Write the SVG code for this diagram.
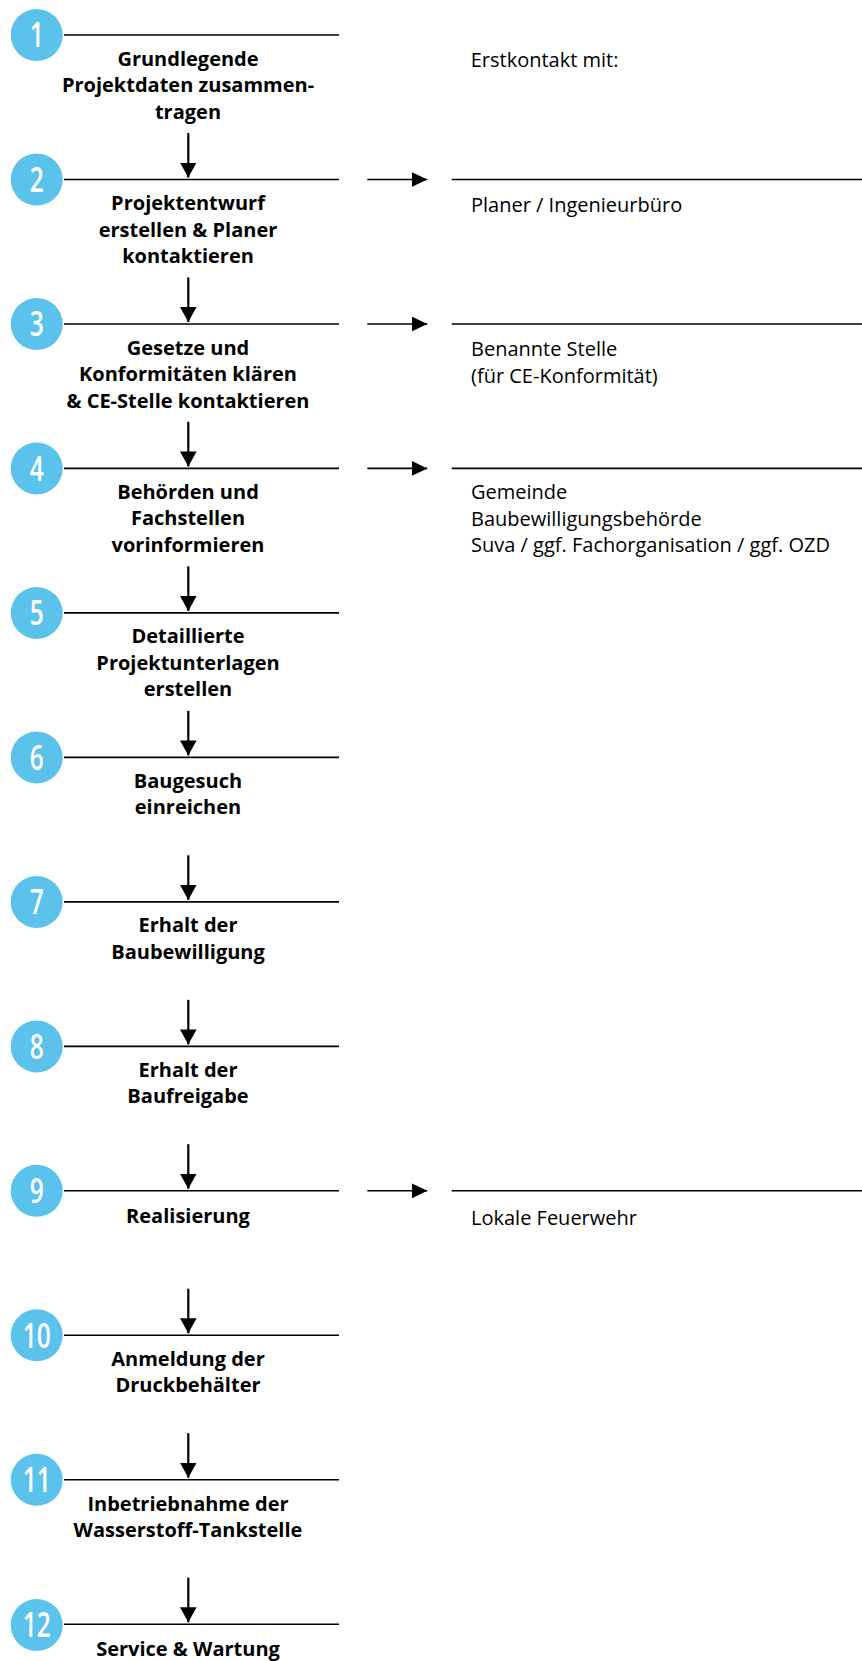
<svg xmlns="http://www.w3.org/2000/svg" width="862" height="1661" viewBox="0 0 862 1661">
<defs>
<marker id="ah" markerUnits="userSpaceOnUse" markerWidth="16" markerHeight="17" refX="15" refY="8.3" orient="auto"><path d="M0,0 L15,8.3 L0,16.6 Z" fill="#000"/></marker>
<marker id="ahr" markerUnits="userSpaceOnUse" markerWidth="16" markerHeight="16" refX="15.6" refY="7.5" orient="auto"><path d="M0,0 L15.6,7.5 L0,15 Z" fill="#000"/></marker>
</defs>
<style>
.c{fill:#5bc2ec}
.n{font-family:"Open Sans","Noto Sans",sans-serif;font-weight:600;font-size:34px;fill:#fff;text-anchor:middle}
.t{font-family:"Open Sans","Noto Sans",sans-serif;font-weight:bold;font-size:20px;fill:#000;text-anchor:middle}
.r{font-family:"Open Sans","Noto Sans",sans-serif;font-size:20px;fill:#000}
.ln{stroke:#000;stroke-width:1.6;fill:none}
.va{stroke:#000;stroke-width:2.2;fill:none;marker-end:url(#ah)}
.ha{stroke:#000;stroke-width:1.6;fill:none;marker-end:url(#ahr)}
</style>
<g id="connectors">
<line class="va" x1="188.3" y1="132.9" x2="188.3" y2="177.5"/>
<line class="va" x1="188.3" y1="277.4" x2="188.3" y2="322"/>
<line class="va" x1="188.3" y1="421.8" x2="188.3" y2="466.4"/>
<line class="va" x1="188.3" y1="566.3" x2="188.3" y2="610.9"/>
<line class="va" x1="188.3" y1="710.8" x2="188.3" y2="755.4"/>
<line class="va" x1="188.3" y1="855.3" x2="188.3" y2="899.9"/>
<line class="va" x1="188.3" y1="999.8" x2="188.3" y2="1044.4"/>
<line class="va" x1="188.3" y1="1144.2" x2="188.3" y2="1188.8"/>
<line class="va" x1="188.3" y1="1288.7" x2="188.3" y2="1333.3"/>
<line class="va" x1="188.3" y1="1433.2" x2="188.3" y2="1477.8"/>
<line class="va" x1="188.3" y1="1577.7" x2="188.3" y2="1622.3"/>
<line class="ha" x1="367.3" y1="179.5" x2="427.3" y2="179.5"/>
<line class="ha" x1="367.3" y1="324" x2="427.3" y2="324"/>
<line class="ha" x1="367.3" y1="468.4" x2="427.3" y2="468.4"/>
<line class="ha" x1="367.3" y1="1190.8" x2="427.3" y2="1190.8"/>
</g>
<g id="step1"><circle class="c" cx="36.7" cy="35" r="26"/><text class="n" transform="translate(36.7,47.3) scale(0.72,1)">1</text><line class="ln" x1="64" y1="35" x2="339" y2="35"/>
<text class="t" x="188" y="65.5">Grundlegende</text><text class="t" x="188" y="92">Projektdaten zusammen-</text><text class="t" x="188" y="118.5">tragen</text></g>
<g id="step2"><circle class="c" cx="36.7" cy="179.5" r="26"/><text class="n" transform="translate(36.7,191.8) scale(0.72,1)">2</text><line class="ln" x1="64" y1="179.5" x2="339" y2="179.5"/>
<text class="t" x="188" y="210">Projektentwurf</text><text class="t" x="188" y="236.5">erstellen &amp; Planer</text><text class="t" x="188" y="263">kontaktieren</text></g>
<g id="step3"><circle class="c" cx="36.7" cy="324" r="26"/><text class="n" transform="translate(36.7,336.3) scale(0.72,1)">3</text><line class="ln" x1="64" y1="324" x2="339" y2="324"/>
<text class="t" x="188" y="354.5">Gesetze und</text><text class="t" x="188" y="381">Konformitäten klären</text><text class="t" x="188" y="407.5">&amp; CE-Stelle kontaktieren</text></g>
<g id="step4"><circle class="c" cx="36.7" cy="468.4" r="26"/><text class="n" transform="translate(36.7,480.7) scale(0.72,1)">4</text><line class="ln" x1="64" y1="468.4" x2="339" y2="468.4"/>
<text class="t" x="188" y="498.9">Behörden und</text><text class="t" x="188" y="525.4">Fachstellen</text><text class="t" x="188" y="551.9">vorinformieren</text></g>
<g id="step5"><circle class="c" cx="36.7" cy="612.9" r="26"/><text class="n" transform="translate(36.7,625.2) scale(0.72,1)">5</text><line class="ln" x1="64" y1="612.9" x2="339" y2="612.9"/>
<text class="t" x="188" y="643.4">Detaillierte</text><text class="t" x="188" y="669.9">Projektunterlagen</text><text class="t" x="188" y="696.4">erstellen</text></g>
<g id="step6"><circle class="c" cx="36.7" cy="757.4" r="26"/><text class="n" transform="translate(36.7,769.7) scale(0.72,1)">6</text><line class="ln" x1="64" y1="757.4" x2="339" y2="757.4"/>
<text class="t" x="188" y="787.9">Baugesuch</text><text class="t" x="188" y="814.4">einreichen</text></g>
<g id="step7"><circle class="c" cx="36.7" cy="901.9" r="26"/><text class="n" transform="translate(36.7,914.2) scale(0.72,1)">7</text><line class="ln" x1="64" y1="901.9" x2="339" y2="901.9"/>
<text class="t" x="188" y="932.4">Erhalt der</text><text class="t" x="188" y="958.9">Baubewilligung</text></g>
<g id="step8"><circle class="c" cx="36.7" cy="1046.4" r="26"/><text class="n" transform="translate(36.7,1058.7) scale(0.72,1)">8</text><line class="ln" x1="64" y1="1046.4" x2="339" y2="1046.4"/>
<text class="t" x="188" y="1076.9">Erhalt der</text><text class="t" x="188" y="1103.4">Baufreigabe</text></g>
<g id="step9"><circle class="c" cx="36.7" cy="1190.8" r="26"/><text class="n" transform="translate(36.7,1203.1) scale(0.72,1)">9</text><line class="ln" x1="64" y1="1190.8" x2="339" y2="1190.8"/>
<text class="t" x="188" y="1222.5">Realisierung</text></g>
<g id="step10"><circle class="c" cx="36.7" cy="1335.3" r="26"/><text class="n" transform="translate(36.7,1347.6) scale(0.72,1)">10</text><line class="ln" x1="64" y1="1335.3" x2="339" y2="1335.3"/>
<text class="t" x="188" y="1365.8">Anmeldung der</text><text class="t" x="188" y="1392.3">Druckbehälter</text></g>
<g id="step11"><circle class="c" cx="36.7" cy="1479.8" r="26"/><text class="n" transform="translate(36.7,1492.1) scale(0.72,1)">11</text><line class="ln" x1="64" y1="1479.8" x2="339" y2="1479.8"/>
<text class="t" x="188" y="1511">Inbetriebnahme der</text><text class="t" x="188" y="1537">Wasserstoff-Tankstelle</text></g>
<g id="step12"><circle class="c" cx="36.7" cy="1625" r="26"/><text class="n" transform="translate(36.7,1637.3) scale(0.72,1)">12</text><line class="ln" x1="64" y1="1624.3" x2="339" y2="1624.3"/>
<text class="t" x="188" y="1655.5">Service &amp; Wartung</text></g>
<g id="contact-intro"><text class="r" x="470.7" y="67.3">Erstkontakt mit:</text></g>
<g id="contact2"><line class="ln" x1="451.7" y1="179.5" x2="862" y2="179.5"/><text class="r" x="471" y="211.9">Planer / Ingenieurbüro</text></g>
<g id="contact3"><line class="ln" x1="451.7" y1="324" x2="862" y2="324"/><text class="r" x="471" y="356.2">Benannte Stelle</text><text class="r" x="471" y="382.5">(für CE-Konformität)</text></g>
<g id="contact4"><line class="ln" x1="451.7" y1="468.4" x2="862" y2="468.4"/><text class="r" x="471" y="499.3">Gemeinde</text><text class="r" x="471" y="525.8">Baubewilligungsbehörde</text><text class="r" x="471" y="552">Suva / ggf. Fachorganisation / ggf. OZD</text></g>
<g id="contact9"><line class="ln" x1="451.7" y1="1190.8" x2="862" y2="1190.8"/><text class="r" x="471" y="1224.5">Lokale Feuerwehr</text></g>
</svg>
